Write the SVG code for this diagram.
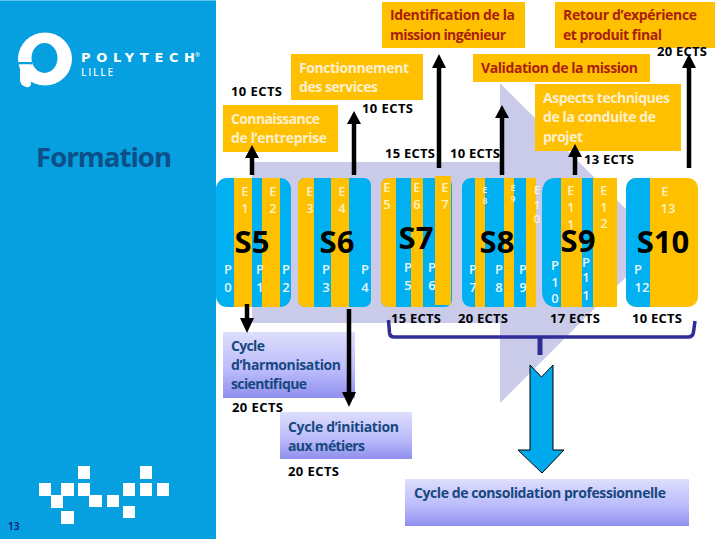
<svg xmlns="http://www.w3.org/2000/svg" width="720" height="540" viewBox="0 0 720 540">
<style>
text{font-family:"Open Sans","Noto Sans","DejaVu Sans",sans-serif;font-weight:600}
.o{fill:#ffc000}.b{fill:#00b0f0}
.t{font-size:14px;font-weight:700}
.red{fill:#a9200f}
.wh{fill:#fdf0cf}
.ects{font-size:13px;font-weight:700;fill:#000}
.blu{fill:#17487e}
.s{font-size:31px;font-weight:700;fill:#000;text-anchor:middle}
.e{font-size:13px;fill:#fdf2c4;text-anchor:middle}
.p{font-size:13px;fill:#e6f7ff;text-anchor:middle}
.sq{fill:#fff}
.ar{stroke:#000;stroke-width:4.5;fill:none}
.ah{fill:#000}
.br{stroke:#2e2e96;stroke-width:3.5;fill:none;stroke-linejoin:round}
</style>
<defs>
<linearGradient id="g" x1="0" y1="0" x2="0" y2="1"><stop offset="0" stop-color="#dedefd"/><stop offset="0.6" stop-color="#b9b9fb"/><stop offset="1" stop-color="#8f8fee"/></linearGradient>
<clipPath id="c5"><rect x="216" y="178" width="75" height="129" rx="11"/></clipPath>
<clipPath id="c6"><rect x="298" y="178" width="73" height="129" rx="7"/></clipPath>
<clipPath id="c7"><rect x="381" y="178" width="71" height="129" rx="7"/></clipPath>
<clipPath id="c8"><rect x="462" y="178" width="74" height="129" rx="9"/></clipPath>
<clipPath id="c10"><rect x="626" y="178" width="72" height="129" rx="10"/></clipPath>
</defs>
<rect width="720" height="540" fill="#fff"/>

<g id="sidebar">
<rect x="0" y="0" width="216" height="539" fill="#069fe0"/>
<rect x="0" y="0" width="216" height="1" fill="#5cc3ee"/>
<path fill="#fff" fill-rule="evenodd" d="M18 59a27 26.500 0 1 0 54 0a27 26.500 0 1 0-54 0zM31.500 58a13 15 0 1 0 26 0a13 15 0 1 0-26 0z"/>
<rect x="14" y="62" width="18" height="2.500" fill="#069fe0"/>
<path fill="#fff" d="M20 64.500H31V84Q30 88 26 87Q20 85 20 80z"/>
<text x="81" y="62" font-size="13" style="font-family:'DejaVu Sans',sans-serif;font-weight:700" fill="#fff" textLength="114">POLYTECH</text>
<text x="195" y="57" font-size="6" fill="#fff">®</text>
<text x="81" y="76" font-size="10" fill="#e8f6fd" textLength="32">LILLE</text>
<text x="36" y="167" font-size="27.500" style="font-weight:700" fill="#0d4f88" textLength="136">Formation</text>
<g>
<rect class="sq" x="39" y="483" width="12" height="13"/><rect class="sq" x="51" y="495" width="12" height="13"/>
<rect class="sq" x="61" y="483" width="13" height="13"/><rect class="sq" x="61" y="511" width="13" height="13"/>
<rect class="sq" x="78" y="466" width="12" height="13"/><rect class="sq" x="78" y="483" width="12" height="13"/>
<rect class="sq" x="89" y="495" width="13" height="12"/><rect class="sq" x="107" y="495" width="12" height="12"/>
<rect class="sq" x="123" y="483" width="12" height="13"/><rect class="sq" x="123" y="506" width="12" height="12"/>
<rect class="sq" x="140" y="466" width="12" height="13"/><rect class="sq" x="140" y="483" width="12" height="13"/>
<rect class="sq" x="157" y="483" width="12" height="13"/>
</g>
<text x="8" y="530" font-size="10" fill="#10106a">13</text>
</g>

<path id="chevron" fill="#c9cbe8" d="M252 162H500V83L660 243L500 403V323H252z"/>

<g id="box-identification"><rect class="o" x="382" y="2" width="143" height="46"/>
<text class="t red" x="390" y="20" textLength="125">Identification de la</text><text class="t red" x="390" y="40" textLength="116">mission ingénieur</text></g>
<g id="box-retour"><rect class="o" x="555" y="2" width="160" height="46"/>
<text class="t red" x="563" y="20" textLength="134">Retour d’expérience</text><text class="t red" x="563" y="40" textLength="99">et produit final</text></g>
<g id="box-validation"><rect class="o" x="473" y="54" width="177" height="28"/>
<text class="t red" x="481" y="73" textLength="157">Validation de la mission</text></g>
<g id="box-fonctionnement"><rect class="o" x="291" y="54" width="132" height="46"/>
<text class="t wh" x="299" y="73" textLength="110">Fonctionnement</text><text class="t wh" x="299" y="92" textLength="79">des services</text></g>
<g id="box-connaissance"><rect class="o" x="223" y="105" width="115" height="47"/>
<text class="t wh" x="231" y="124" textLength="89">Connaissance</text><text class="t wh" x="231" y="143" textLength="96">de l’entreprise</text></g>
<g id="box-aspects"><rect class="o" x="535" y="84" width="146" height="67"/>
<text class="t wh" x="543" y="103" textLength="127">Aspects techniques</text><text class="t wh" x="543" y="122" textLength="113">de la conduite de</text><text class="t wh" x="543" y="142" textLength="40">projet</text></g>

<g id="S5"><g clip-path="url(#c5)"><rect class="b" x="216" y="178" width="75" height="129"/><rect class="o" x="234" y="178" width="18" height="129"/><rect class="o" x="262" y="178" width="18" height="129"/></g>
<text class="e" x="245" y="196">E</text><text class="e" x="245" y="213">1</text><text class="e" x="273" y="196">E</text><text class="e" x="273" y="213">2</text>
<text class="s" x="252" y="253">S5</text>
<text class="p" x="228" y="274">P</text><text class="p" x="228" y="292">0</text><text class="p" x="260" y="274">P</text><text class="p" x="260" y="292">1</text><text class="p" x="286" y="274">P</text><text class="p" x="286" y="292">2</text></g>
<g id="S6"><g clip-path="url(#c6)"><rect class="b" x="298" y="178" width="73" height="129"/><rect class="o" x="298" y="178" width="16" height="129"/><rect class="o" x="331" y="178" width="18" height="129"/></g>
<text class="e" x="310" y="196">E</text><text class="e" x="310" y="213">3</text><text class="e" x="342" y="196">E</text><text class="e" x="342" y="213">4</text>
<text class="s" x="337" y="253">S6</text>
<text class="p" x="326" y="274">P</text><text class="p" x="326" y="292">3</text><text class="p" x="365" y="274">P</text><text class="p" x="365" y="292">4</text></g>
<g id="S7"><g clip-path="url(#c7)"><rect class="b" x="381" y="178" width="71" height="129"/><rect class="o" x="381" y="178" width="15" height="129"/><rect class="o" x="411" y="178" width="12" height="129"/></g><rect class="o" x="435" y="176" width="16" height="129"/>
<text class="e" x="387" y="192">E</text><text class="e" x="387" y="209">5</text><text class="e" x="417" y="192">E</text><text class="e" x="417" y="209">6</text><text class="e" x="445" y="192">E</text><text class="e" x="445" y="209">7</text>
<text class="s" x="416" y="249">S7</text>
<text class="p" x="408" y="272">P</text><text class="p" x="408" y="290">5</text><text class="p" x="432" y="272">P</text><text class="p" x="432" y="290">6</text></g>
<g id="S8"><g clip-path="url(#c8)"><rect class="b" x="462" y="178" width="74" height="129"/><rect class="o" x="475" y="178" width="10" height="129"/><rect class="o" x="504" y="178" width="10" height="129"/></g><rect class="o" x="526" y="178" width="10" height="129"/>
<text class="e" style="font-size:8px" x="485" y="193">E</text><text class="e" style="font-size:8px" x="485" y="204">8</text><text class="e" style="font-size:8px" x="513" y="191">E</text><text class="e" style="font-size:8px" x="513" y="202">9</text>
<text class="e" style="font-size:11px" x="537" y="194">E</text><text class="e" style="font-size:11px" x="537" y="209">1</text><text class="e" style="font-size:11px" x="537" y="223">0</text>
<text class="s" x="497" y="253">S8</text>
<text class="p" x="473" y="274">P</text><text class="p" x="473" y="292">7</text><text class="p" x="499" y="274">P</text><text class="p" x="499" y="292">8</text><text class="p" x="523" y="274">P</text><text class="p" x="523" y="292">9</text></g>
<g id="S9"><path class="b" d="M556 178H572V307H556Q542 307 542 290V194Q542 178 556 178z"/><rect class="o" x="561" y="178" width="21" height="129"/><rect class="b" x="582" y="178" width="11" height="129"/><rect class="o" x="593" y="178" width="24" height="129"/>
<text class="e" x="571" y="195">E</text><text class="e" x="571" y="212">1</text><text class="e" x="571" y="229">1</text><text class="e" x="604" y="195">E</text><text class="e" x="604" y="212">1</text><text class="e" x="604" y="228">2</text>
<text class="s" x="578" y="252">S9</text>
<text class="p" x="555" y="270">P</text><text class="p" x="555" y="287">1</text><text class="p" x="555" y="303">0</text><text class="p" x="586" y="267">P</text><text class="p" x="586" y="282">1</text><text class="p" x="586" y="300">1</text></g>
<g id="S10"><g clip-path="url(#c10)"><rect class="o" x="626" y="178" width="72" height="129"/><rect class="b" x="626" y="178" width="24" height="129"/></g>
<text class="e" x="665" y="196">E</text><text class="e" x="668" y="213">13</text>
<text class="s" x="663" y="253">S10</text>
<text class="p" x="638" y="274">P</text><text class="p" x="642" y="292">12</text></g>

<g id="ects-labels">
<text class="ects" x="231" y="96" textLength="51">10 ECTS</text>
<text class="ects" x="362" y="113" textLength="51">10 ECTS</text>
<text class="ects" x="385" y="158" textLength="50">15 ECTS</text>
<text class="ects" x="450" y="158" textLength="50">10 ECTS</text>
<text class="ects" x="584" y="164" textLength="50">13 ECTS</text>
<text class="ects" x="657" y="56" textLength="50">20 ECTS</text>
<text class="ects" x="391" y="323" textLength="50">15 ECTS</text>
<text class="ects" x="458" y="323" textLength="50">20 ECTS</text>
<text class="ects" x="550" y="323" textLength="50">17 ECTS</text>
<text class="ects" x="632" y="323" textLength="50">10 ECTS</text>
</g>

<g id="box-harmonisation"><rect x="223" y="332" width="132" height="66" fill="url(#g)"/>
<text class="t blu" x="231" y="351" textLength="34">Cycle</text><text class="t blu" x="231" y="370" textLength="110">d’harmonisation</text><text class="t blu" x="231" y="389" textLength="76">scientifique</text></g>
<g id="box-initiation"><rect x="280" y="412" width="132" height="47" fill="url(#g)"/>
<text class="t blu" x="288" y="432" textLength="111">Cycle d’initiation</text><text class="t blu" x="288" y="451" textLength="77">aux métiers</text></g>
<g id="box-consolidation"><rect x="405" y="479" width="284" height="47" fill="url(#g)"/>
<text class="t blu" x="414" y="498" textLength="252">Cycle de consolidation professionnelle</text></g>
<text class="ects" x="232" y="412" textLength="51">20 ECTS</text>
<text class="ects" x="288" y="476" textLength="51">20 ECTS</text>

<g id="connectors">
<path class="ar" d="M252 175V155"/><path class="ah" d="M252 145l7 13h-14z"/>
<path class="ar" d="M354 175V121"/><path class="ah" d="M354 111l7 13h-14z"/>
<path class="ar" d="M439 168V64"/><path class="ah" d="M439 54l7 14h-14z"/>
<path class="ar" d="M502 175V115"/><path class="ah" d="M502 105l7 13h-14z"/>
<path class="ar" d="M575 175V154"/><path class="ah" d="M575 144l7 13h-14z"/>
<path class="ar" d="M689 168V64"/><path class="ah" d="M689 54l7 14h-14z"/>
<path class="ar" d="M247 304V322"/><path class="ah" d="M247 333l-7-15h14z"/>
<path class="ar" d="M349 309V396"/><path class="ah" d="M349 407l-7-15h14z"/>
<path class="br" d="M388.500 320L389.500 333Q390 337 394 337H688Q693 337 693.500 332L695 321"/>
<path class="br" style="stroke-width:5" d="M540 337V355"/>
<path fill="#00a9ec" stroke="#000" d="M530 365L541.500 377L553 365V450H564L542 473L518 450H530z"/>
</g>
</svg>
